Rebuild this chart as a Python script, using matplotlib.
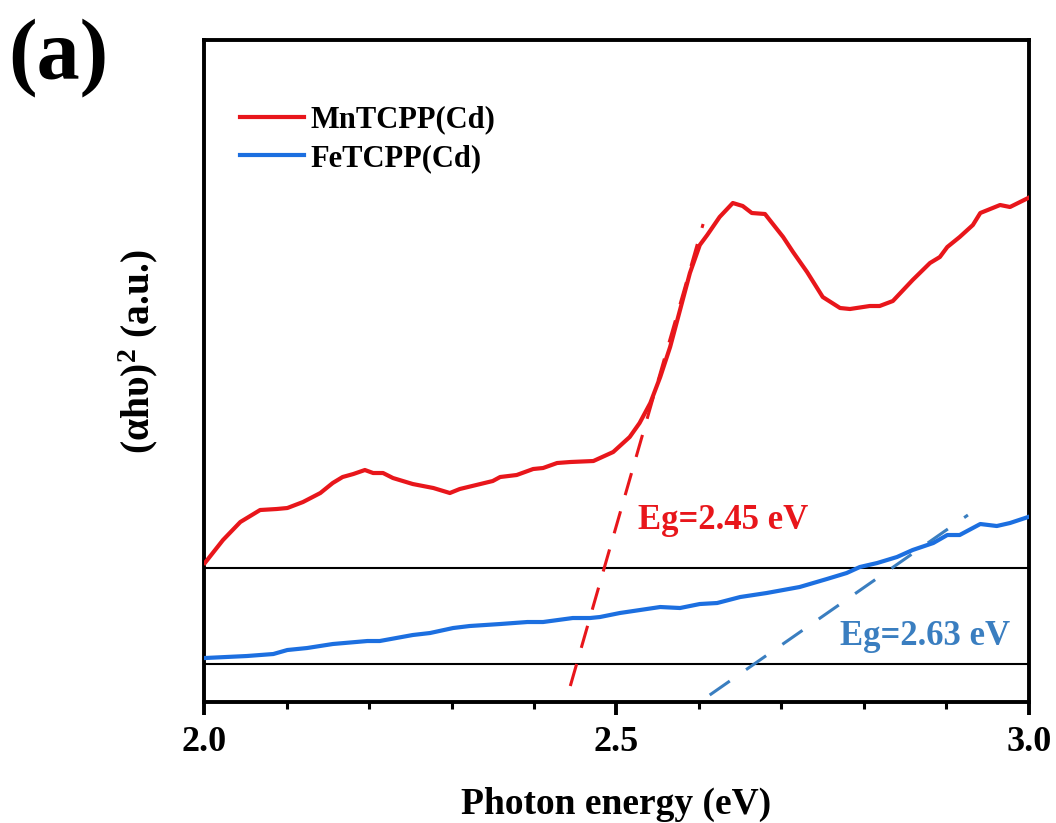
import matplotlib.pyplot as plt
import numpy as np

plt.rcParams['font.family'] = ['Liberation Serif', 'DejaVu Serif']
plt.rcParams['font.weight'] = 'bold'
plt.rcParams['mathtext.fontset'] = 'custom'
plt.rcParams['mathtext.rm'] = 'Liberation Serif:bold'
plt.rcParams['mathtext.it'] = 'Liberation Serif:bold'

# MnTCPP(Cd) curve (photon energy, a.u.)
mn_x = [2.001, 2.023, 2.044, 2.068, 2.088, 2.101, 2.120, 2.141, 2.156, 2.168,
        2.181, 2.195, 2.205, 2.217, 2.229, 2.253, 2.278, 2.298, 2.310, 2.335,
        2.350, 2.359, 2.379, 2.399, 2.411, 2.428, 2.444, 2.472, 2.496, 2.516,
        2.528, 2.541, 2.553, 2.565, 2.577, 2.589, 2.601, 2.610, 2.625, 2.641,
        2.653, 2.664, 2.680, 2.702, 2.714, 2.731, 2.750, 2.771, 2.783, 2.807,
        2.819, 2.835, 2.859, 2.880, 2.892, 2.901, 2.916, 2.932, 2.941, 2.965,
        2.977, 2.999]
mn_y = [1.39, 1.62, 1.80, 1.92, 1.93, 1.94, 2.00, 2.09, 2.19, 2.25,
        2.28, 2.32, 2.29, 2.29, 2.24, 2.18, 2.14, 2.09, 2.13, 2.18,
        2.21, 2.25, 2.27, 2.33, 2.34, 2.39, 2.40, 2.41, 2.50, 2.65,
        2.79, 2.99, 3.25, 3.55, 3.92, 4.29, 4.57, 4.67, 4.85, 4.99,
        4.96, 4.89, 4.88, 4.65, 4.50, 4.30, 4.05, 3.94, 3.93, 3.96,
        3.96, 4.01, 4.22, 4.39, 4.45, 4.55, 4.65, 4.77, 4.89, 4.97,
        4.95, 5.04]

# FeTCPP(Cd) curve
fe_x = [2.001, 2.052, 2.084, 2.101, 2.125, 2.156, 2.198, 2.213, 2.253, 2.274,
        2.302, 2.322, 2.359, 2.392, 2.411, 2.447, 2.468, 2.480, 2.504, 2.553,
        2.577, 2.601, 2.622, 2.650, 2.682, 2.722, 2.755, 2.779, 2.795, 2.816,
        2.840, 2.859, 2.884, 2.901, 2.916, 2.941, 2.961, 2.977, 2.999]
fe_y = [0.44, 0.46, 0.48, 0.52, 0.54, 0.58, 0.61, 0.61, 0.67, 0.69,
        0.74, 0.76, 0.78, 0.80, 0.80, 0.84, 0.84, 0.85, 0.89, 0.95,
        0.94, 0.98, 0.99, 1.05, 1.09, 1.15, 1.23, 1.29, 1.35, 1.39,
        1.45, 1.52, 1.59, 1.67, 1.67, 1.78, 1.76, 1.79, 1.85]

# tangent lines and baselines
red_tan_x = [2.444, 2.605]
red_tan_y = [0.16, 4.78]
blue_tan_x = [2.613, 2.926]
blue_tan_y = [0.07, 1.87]
baselines = [1.34, 0.38]

red = '#E8161B'
blue = '#1C6FE0'
steel = '#3A7EC0'

fig = plt.figure(figsize=(10.56, 8.23), dpi=100)
ax = fig.add_axes([0.1932, 0.147, 0.7812, 0.8044])

for b in baselines:
    ax.axhline(b, color='black', lw=1.5, zorder=1)

ax.plot(mn_x, mn_y, color=red, lw=3.0, label='MnTCPP(Cd)', zorder=3)
ax.plot(fe_x, fe_y, color=blue, lw=3.0, label='FeTCPP(Cd)', zorder=3)
ax.plot(red_tan_x, red_tan_y, color=red, lw=2.2, dashes=(7.5, 5.5), zorder=2)
ax.plot(blue_tan_x, blue_tan_y, color=steel, lw=2.2, dashes=(8, 6.5), zorder=2)

ax.text(2.629, 1.82, 'Eg=2.45 eV', color=red, fontsize=25, fontweight='bold', ha='center', va='center')
ax.text(2.874, 0.66, 'Eg=2.63 eV', color=steel, fontsize=25, fontweight='bold', ha='center', va='center')

ax.set_xlim(2.0, 3.0)
ax.set_ylim(0, 6.62)
ax.set_xticks([2.0, 2.5, 3.0])
ax.set_xticks(np.arange(2.0, 3.0, 0.1), minor=True)
ax.set_yticks([])
ax.tick_params(axis='x', which='major', direction='out', length=9, width=2.8, labelsize=26, pad=8)
ax.tick_params(axis='x', which='minor', direction='out', length=5, width=2.2)
for s in ax.spines.values():
    s.set_linewidth(2.8)

ax.set_xlabel('Photon energy (eV)', fontsize=27, fontweight='bold', labelpad=20)
ax.set_ylabel(r'(αhυ)$^{2}$ (a.u.)', fontsize=28.5, fontweight='bold')
ax.yaxis.set_label_coords(-0.053, 0.529)

ax.legend(loc='upper left', bbox_to_anchor=(0.01, 0.943), frameon=False, fontsize=22,
          handlelength=2.1, handletextpad=0.2, labelspacing=0.32)

fig.text(0.008, 0.978, '(a)', fontsize=62, fontweight='bold', va='top', ha='left')

fig.savefig('out.png', dpi=100)
